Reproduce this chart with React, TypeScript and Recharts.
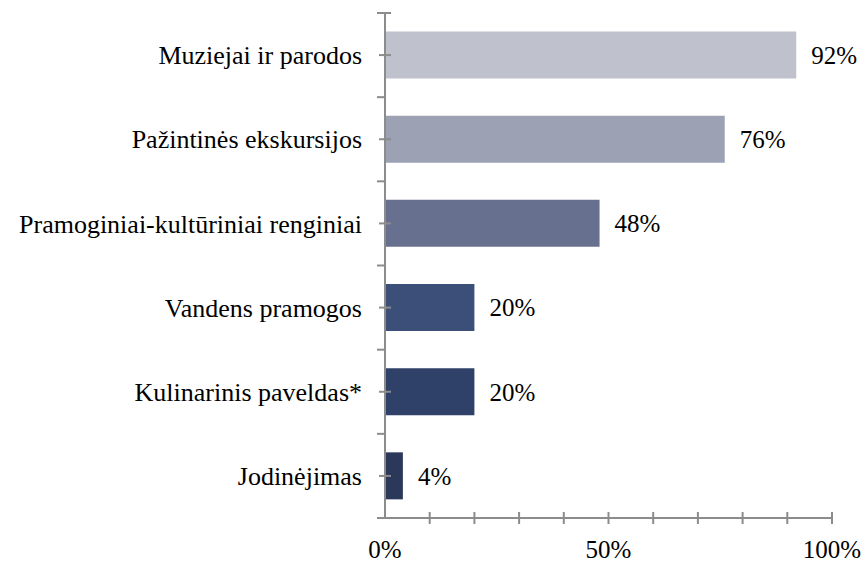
import { Bar, BarChart, Cell, LabelList, XAxis, YAxis } from "recharts";

const categories = [
  "Muziejai ir parodos",
  "Pažintinės ekskursijos",
  "Pramoginiai-kultūriniai renginiai",
  "Vandens pramogos",
  "Kulinarinis paveldas*",
  "Jodinėjimas",
];
const values = [92, 76, 48, 20, 20, 4];
const barColors = ["#bfc1cd", "#9ca1b4", "#67718f", "#3b4f78", "#2f4168", "#2b3859"];
const xTicks = [0, 10, 20, 30, 40, 50, 60, 70, 80, 90, 100];
const xTickLabels: Record<number, string> = { 0: "0%", 50: "50%", 100: "100%" };

const data = categories.map((name, i) => ({ name, value: values[i] }));

const W = 862;
const H = 563;
const TOP = 13;
const BOTTOM = 45;
const AXIS_W = 385;
const AXIS_COLOR = "#8c8c8c";
const FONT = "'Times New Roman', Times, 'Liberation Serif', 'DejaVu Serif', serif";
const BAND = (H - TOP - BOTTOM) / categories.length;

function YTick(props: any) {
  const { x, y, payload, index } = props;
  const last = index === categories.length - 1;
  return (
    <g>
      <line x1={x - 6} x2={x + 6} y1={y} y2={y} stroke={AXIS_COLOR} strokeWidth={2} />
      <line x1={x - 8} x2={x} y1={y - BAND / 2} y2={y - BAND / 2} stroke={AXIS_COLOR} strokeWidth={2} />
      {index === 0 && (
        <line x1={x} x2={x + 6} y1={y - BAND / 2} y2={y - BAND / 2} stroke={AXIS_COLOR} strokeWidth={2} />
      )}
      {last && (
        <line x1={x - 8} x2={x} y1={y + BAND / 2} y2={y + BAND / 2} stroke={AXIS_COLOR} strokeWidth={2} />
      )}
      <text
        x={x - 23}
        y={y}
        dy="0.35em"
        textAnchor="end"
        fill="#000"
        style={{ fontSize: 26, fontFamily: FONT }}
      >
        {payload.value}
      </text>
    </g>
  );
}

function XTick(props: any) {
  const { x, y, payload } = props;
  const label = xTickLabels[payload.value];
  return (
    <g>
      {payload.value !== 0 && (
        <line x1={x} x2={x} y1={y - 6} y2={y + 6} stroke={AXIS_COLOR} strokeWidth={2} />
      )}
      {label && (
        <text x={x} y={y + 40} textAnchor="middle" fill="#000" style={{ fontSize: 25, fontFamily: FONT }}>
          {label}
        </text>
      )}
    </g>
  );
}

export default function App() {
  return (
    <div
      style={{
        position: "absolute",
        left: 0,
        top: 0,
        width: W,
        height: H,
        background: "#fff",
        fontFamily: FONT,
      }}
    >
      <BarChart
        width={W}
        height={H}
        data={data}
        layout="vertical"
        margin={{ top: TOP, right: 30, bottom: 0, left: 0 }}
        barCategoryGap="22%"
        style={{ fontFamily: FONT }}
      >
        <XAxis
          type="number"
          domain={[0, 100]}
          ticks={xTicks}
          interval={0}
          height={BOTTOM}
          tickSize={0}
          tickMargin={0}
          tickLine={false}
          tick={<XTick />}
          axisLine={{ stroke: AXIS_COLOR, strokeWidth: 2 }}
        />
        <YAxis
          type="category"
          dataKey="name"
          width={AXIS_W}
          tickSize={0}
          tickMargin={0}
          tickLine={false}
          interval={0}
          tick={<YTick />}
          axisLine={{ stroke: AXIS_COLOR, strokeWidth: 2 }}
        />
        <Bar dataKey="value" isAnimationActive={false}>
          {data.map((d, i) => (
            <Cell key={d.name} fill={barColors[i]} />
          ))}
          <LabelList
            dataKey="value"
            position="right"
            offset={15}
            formatter={(v: any) => `${v}%`}
            fill="#000"
            fontSize={25}
            style={{ fontFamily: FONT }}
          />
        </Bar>
      </BarChart>
    </div>
  );
}
